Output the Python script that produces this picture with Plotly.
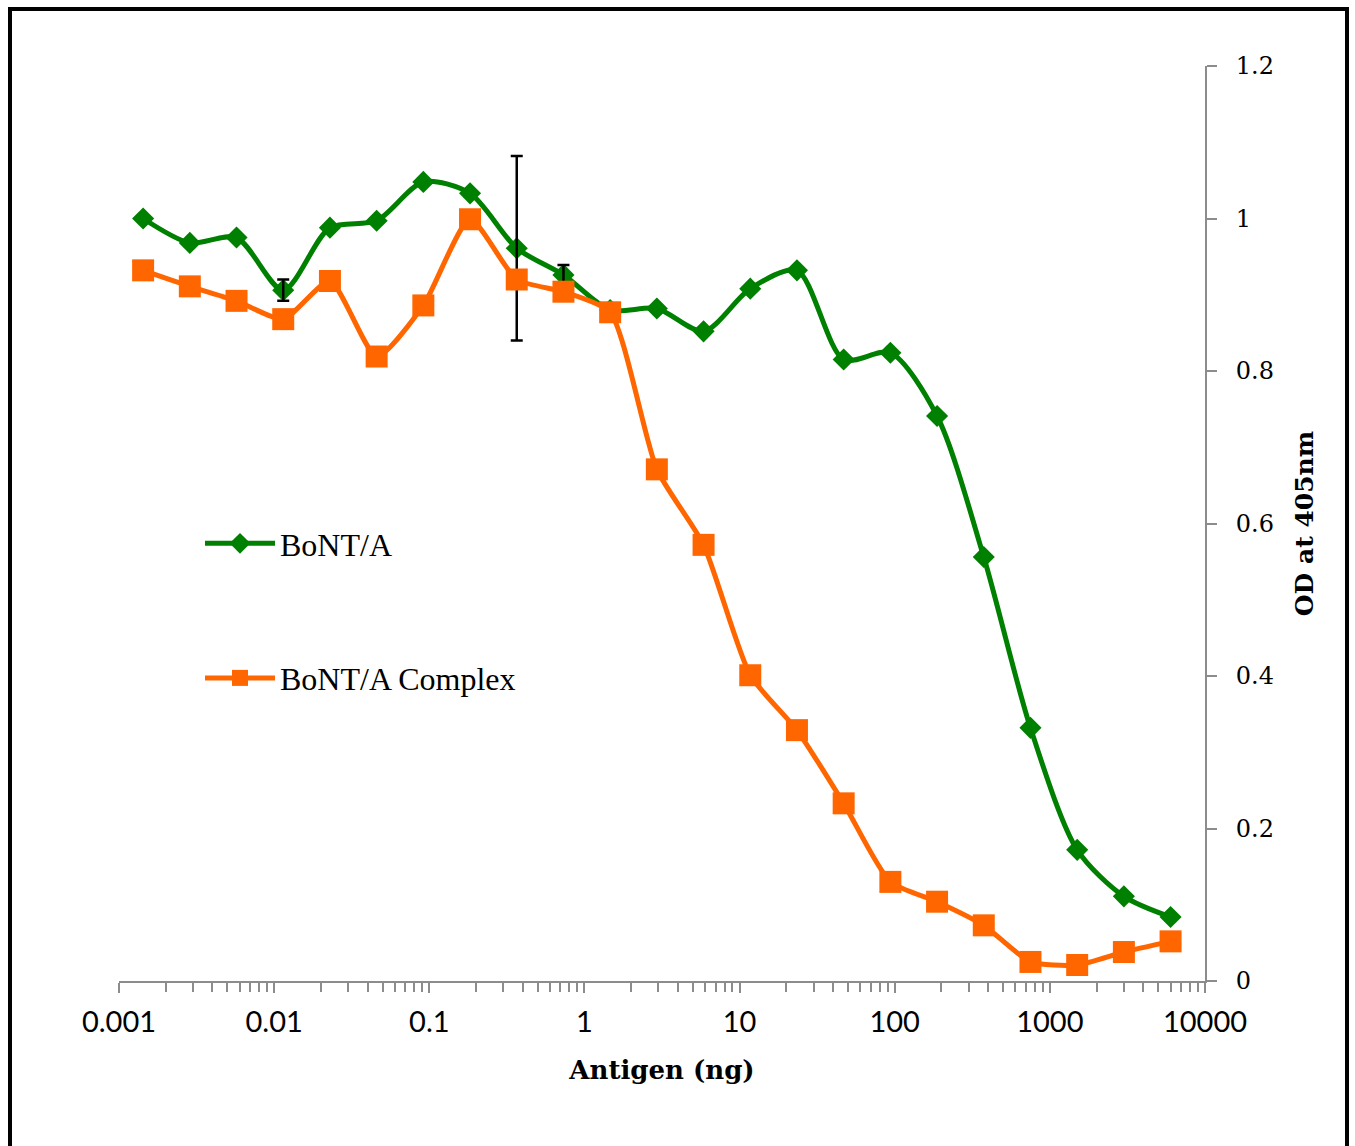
import plotly.graph_objects as go

# ---- data ----
antigen_ng = [6000 / 2 ** k for k in range(22, -1, -1)]  # two-fold dilution series
bont_a = [1.000, 0.968, 0.975, 0.906, 0.988, 0.997, 1.048, 1.033, 0.961, 0.926,
          0.880, 0.882, 0.852, 0.908, 0.932, 0.815, 0.824, 0.741, 0.556, 0.332,
          0.172, 0.111, 0.084]
bont_a_complex = [0.932, 0.911, 0.892, 0.868, 0.918, 0.819, 0.886, 0.999, 0.920, 0.904,
                  0.877, 0.671, 0.572, 0.401, 0.329, 0.233, 0.130, 0.104, 0.073, 0.025,
                  0.021, 0.038, 0.052]
err_index = [3, 8, 9]
err_value = [0.014, 0.121, 0.013]

x_tickvals = [0.001, 0.01, 0.1, 1, 10, 100, 1000, 10000]
x_ticktext = ["0.001", "0.01", "0.1", "1", "10", "100", "1000", "10000"]
y_tickvals = [0, 0.2, 0.4, 0.6, 0.8, 1.0, 1.2]
y_ticktext = ["0", "0.2", "0.4", "0.6", "0.8", "1", "1.2"]

GREEN = "#008000"
ORANGE = "#FF6600"
GREY = "#8c8c8c"

W, H = 1355, 1146
L, R, T, B = 119, 1205, 66, 981

fig = go.Figure()

fig.add_trace(go.Scatter(
    x=antigen_ng, y=bont_a, name="BoNT/A", legendgroup="a",
    mode="lines+markers", line=dict(color=GREEN, width=5, shape="spline", smoothing=0.8),
    marker=dict(symbol="diamond", size=17, color=GREEN),
))

fig.add_trace(go.Scatter(
    x=[antigen_ng[i] for i in err_index], y=[bont_a[i] for i in err_index],
    mode="markers", marker=dict(size=1, color="rgba(0,0,0,0)"), showlegend=False,
    hoverinfo="skip",
    error_y=dict(type="data", array=err_value, visible=True, color="black", thickness=2.5, width=6),
))

fig.add_trace(go.Scatter(
    x=antigen_ng, y=bont_a_complex, name="BoNT/A Complex", legendgroup="b",
    mode="lines+markers", line=dict(color=ORANGE, width=5, shape="spline", smoothing=0.6),
    marker=dict(symbol="square", size=22, color=ORANGE),
))

def px_x(p):
    return (p - L) / (R - L)

def px_y(p):
    return (B - p) / (B - T)

fig.add_shape(type="rect", xref="paper", yref="paper",
              x0=px_x(10), x1=px_x(1347), y0=px_y(1150), y1=px_y(9),
              line=dict(color="black", width=4), fillcolor="rgba(0,0,0,0)", layer="above")

fig.update_layout(
    width=W, height=H,
    margin=dict(l=L, r=W - R, t=T, b=H - B),
    paper_bgcolor="white", plot_bgcolor="white",
    showlegend=True,
    legend=dict(
        x=px_x(200), y=px_y(516), xanchor="left", yanchor="top",
        bgcolor="rgba(0,0,0,0)", tracegroupgap=90,
        font=dict(family="Liberation Serif", size=32, color="black"),
        itemwidth=70,
    ),
    xaxis=dict(
        type="log", range=[-3, 4], tickvals=x_tickvals, ticktext=x_ticktext,
        showgrid=False, zeroline=False, showline=True, linecolor=GREY, linewidth=2,
        ticks="outside", ticklen=10, tickcolor=GREY, tickwidth=2,
        tickfont=dict(family="Lato", size=29, color="black"),
        ticklabelstandoff=4,
        minor=dict(ticks="outside", ticklen=9, tickcolor=GREY, tickwidth=1.5, dtick="D1", showgrid=False),
        title=dict(text="<b>Antigen (ng)</b>", font=dict(family="DejaVu Serif", size=26, color="black"),
                   standoff=24),
    ),
    yaxis=dict(
        range=[0, 1.2], side="right", tickvals=y_tickvals, ticktext=y_ticktext,
        showgrid=False, zeroline=False, showline=True, linecolor=GREY, linewidth=2,
        ticks="outside", ticklen=10, tickcolor=GREY, tickwidth=2,
        ticklabelstandoff=14,
        tickfont=dict(family="DejaVu Serif", size=24, color="black"),
        title=dict(text="<b>OD at 405nm</b>", font=dict(family="DejaVu Serif", size=25, color="black"),
                   standoff=23),
    ),
)

fig.write_html("out.html")
